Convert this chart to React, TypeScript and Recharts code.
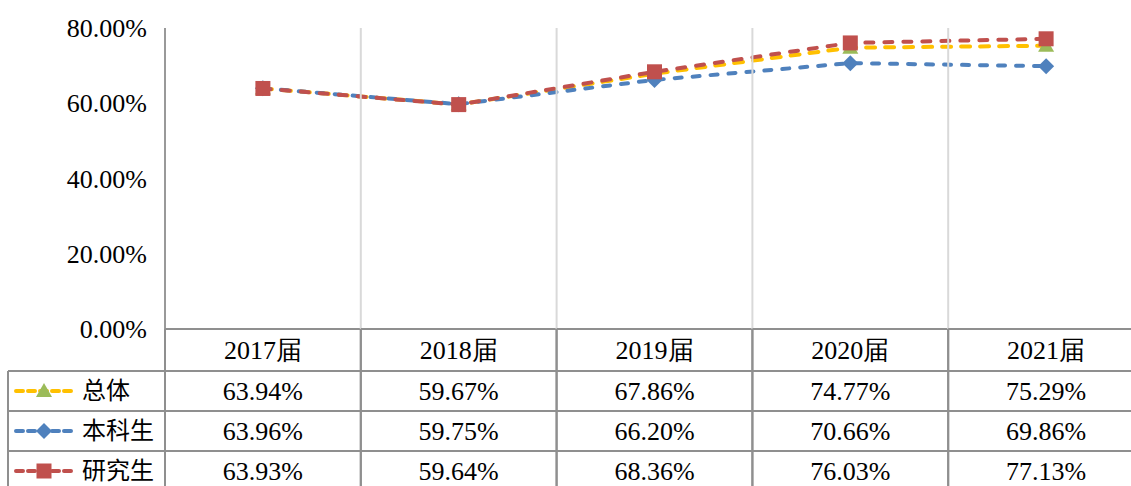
import React from 'react';
import { LineChart, Line, XAxis, YAxis } from 'recharts';

const categories = ['2017届', '2018届', '2019届', '2020届', '2021届'];
const totalValues = [63.94, 59.67, 67.86, 74.77, 75.29];
const undergradValues = [63.96, 59.75, 66.2, 70.66, 69.86];
const gradValues = [63.93, 59.64, 68.36, 76.03, 77.13];
const yTicks = [0, 20, 40, 60, 80];
const seriesNames = ['总体', '本科生', '研究生'];

const data = categories.map((c, i) => ({
  cat: c,
  total: totalValues[i],
  undergrad: undergradValues[i],
  grad: gradValues[i],
}));

const W = 1144;
const H = 486;
const LEFT = 165;
const TOP = 28;
const XAXIS_H = 157;
const BAND = (W - LEFT) / categories.length;

const YELLOW = '#FFC000';
const GREEN = '#9BBB59';
const BLUE = '#4F81BD';
const RED = '#C0504D';
const GRID = '#d9d9d9';
const TABLE = '#8f8f8f';
const SERIF = 'Liberation Serif';
const CJK = 'Noto Sans CJK SC';

const fmt = (v: number) => v.toFixed(2) + '%';

const Triangle = ({ cx, cy }: any) =>
  cx == null ? null : (
    <path d={`M${cx},${cy - 8} L${cx + 8},${cy + 6} L${cx - 8},${cy + 6} Z`} fill={GREEN} />
  );
const Diamond = ({ cx, cy }: any) =>
  cx == null ? null : (
    <path d={`M${cx},${cy - 8} L${cx + 8},${cy} L${cx},${cy + 8} L${cx - 8},${cy} Z`} fill={BLUE} />
  );
const Square = ({ cx, cy }: any) =>
  cx == null ? null : <rect x={cx - 7.5} y={cy - 7.5} width={15} height={15} fill={RED} />;

const rowSeries = [
  { values: totalValues, color: YELLOW, Marker: Triangle },
  { values: undergradValues, color: BLUE, Marker: Diamond },
  { values: gradValues, color: RED, Marker: Square },
];

const TableTick = (props: any) => {
  const { x, y, payload, index } = props;
  const left = x - BAND / 2;
  const right = x + BAND / 2;
  const r1 = y + 42;
  const r2 = r1 + 40;
  const r3 = r2 + 40;
  return (
    <g>
      {index > 0 && <line x1={left} y1={TOP} x2={left} y2={y} stroke={GRID} strokeWidth={2} />}
      <line x1={left} y1={y} x2={left} y2={H} stroke={TABLE} strokeWidth={2} />
      <line x1={right} y1={y} x2={right} y2={H} stroke={TABLE} strokeWidth={2} />
      <line x1={left} y1={y} x2={right} y2={y} stroke={TABLE} strokeWidth={2} />
      {[r1, r2, r3].map((ry) => (
        <line key={ry} x1={left} y1={ry} x2={right} y2={ry} stroke={TABLE} strokeWidth={2} />
      ))}
      <text x={x} y={y + 21} dy="0.35em" textAnchor="middle" style={{ fontFamily: SERIF }} fontSize={26} fill="#000">
        {payload.value}
      </text>
      {rowSeries.map((s, k) => (
        <text
          key={k}
          x={x}
          y={r1 + 20 + k * 40}
          dy="0.35em"
          textAnchor="middle"
          style={{ fontFamily: SERIF }}
          fontSize={26}
          fill="#000"
        >
          {fmt(s.values[index])}
        </text>
      ))}
      {index === 0 && (
        <g>
          <line x1={8} y1={r1} x2={left} y2={r1} stroke={TABLE} strokeWidth={2} />
          <line x1={8} y1={r2} x2={left} y2={r2} stroke={TABLE} strokeWidth={2} />
          <line x1={8} y1={r3} x2={left} y2={r3} stroke={TABLE} strokeWidth={2} />
          <line x1={8} y1={r1} x2={8} y2={H} stroke={TABLE} strokeWidth={2} />
          {rowSeries.map((s, k) => {
            const cy = r1 + 20 + k * 40;
            const M = s.Marker;
            return (
              <g key={k}>
                <line
                  x1={16}
                  y1={cy}
                  x2={72}
                  y2={cy}
                  stroke={s.color}
                  strokeWidth={4}
                  strokeDasharray="7 5"
                  strokeLinecap="round"
                />
                <M cx={44} cy={cy} />
                <text x={82} y={cy} dy="0.35em" style={{ fontFamily: CJK }} fontSize={24} fill="#000">
                  {seriesNames[k]}
                </text>
              </g>
            );
          })}
        </g>
      )}
    </g>
  );
};

export default function App() {
  return (
    <div
      style={{
        position: 'absolute',
        left: 0,
        top: 0,
        width: 1131,
        height: 486,
        overflow: 'hidden',
        background: '#fff',
      }}
    >
      <LineChart width={W} height={H} data={data} margin={{ top: TOP, right: 0, bottom: 0, left: 0 }}>
        <XAxis
          dataKey="cat"
          scale="band"
          height={XAXIS_H}
          axisLine={false}
          tickLine={false}
          tickSize={0}
          tickMargin={0}
          interval={0}
          tick={<TableTick />}
        />
        <YAxis
          width={LEFT}
          domain={[0, 80]}
          ticks={yTicks}
          tickFormatter={fmt}
          axisLine={{ stroke: '#999', strokeWidth: 2 }}
          tickLine={false}
          tickSize={0}
          tickMargin={18}
          tick={{ style: { fontFamily: SERIF }, fontSize: 26, fill: '#000' }}
        />
        <Line
          dataKey="total"
          stroke={YELLOW}
          strokeWidth={4}
          strokeDasharray="9 10"
          strokeLinecap="round"
          dot={<Triangle />}
          activeDot={false}
          isAnimationActive={false}
        />
        <Line
          dataKey="undergrad"
          stroke={BLUE}
          strokeWidth={4}
          strokeDasharray="7 11"
          strokeLinecap="round"
          dot={<Diamond />}
          activeDot={false}
          isAnimationActive={false}
        />
        <Line
          dataKey="grad"
          stroke={RED}
          strokeWidth={4}
          strokeDasharray="8 11"
          strokeLinecap="round"
          dot={<Square />}
          activeDot={false}
          isAnimationActive={false}
        />
      </LineChart>
    </div>
  );
}
